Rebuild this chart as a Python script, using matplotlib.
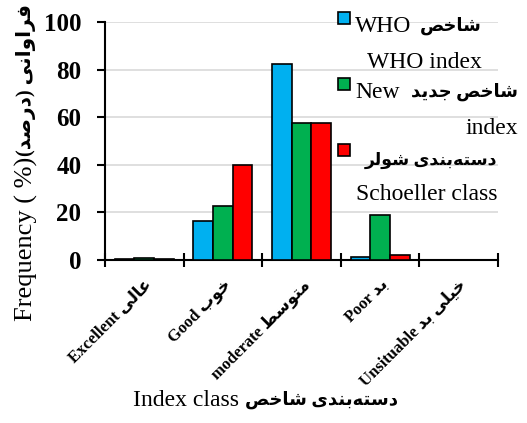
import numpy as np
from matplotlib import pyplot as plt
from matplotlib.patches import Rectangle

plt.rcParams['font.family'] = ['Liberation Serif', 'DejaVu Sans']

# data
classes_en = ['Excellent', 'Good', 'moderate', 'Poor', 'Unsituable']
classes_fa = ['عالی', 'خوب', 'متوسط', 'بد', 'خیلی بد']
who_index = [0.3, 16.3, 82.2, 1.4, 0.0]
new_index = [0.7, 22.8, 57.4, 18.8, 0.0]
schoeller = [0.4, 39.8, 57.7, 2.0, 0.0]
yticks = [0, 20, 40, 60, 80, 100]

colors = ['#00b0f0', '#00b050', '#ff0000']

# --- tiny persian shaper (matplotlib has no shaping / bidi) ---
# isolated, final, initial, medial
FORMS = {
    'ا': ('\uFE8D', '\uFE8E', None, None),
    'ب': ('\uFE8F', '\uFE90', '\uFE91', '\uFE92'),
    'ت': ('\uFE95', '\uFE96', '\uFE97', '\uFE98'),
    'ج': ('\uFE9D', '\uFE9E', '\uFE9F', '\uFEA0'),
    'خ': ('\uFEA5', '\uFEA6', '\uFEA7', '\uFEA8'),
    'د': ('\uFEA9', '\uFEAA', None, None),
    'ر': ('\uFEAD', '\uFEAE', None, None),
    'س': ('\uFEB1', '\uFEB2', '\uFEB3', '\uFEB4'),
    'ش': ('\uFEB5', '\uFEB6', '\uFEB7', '\uFEB8'),
    'ص': ('\uFEB9', '\uFEBA', '\uFEBB', '\uFEBC'),
    'ط': ('\uFEC1', '\uFEC2', '\uFEC3', '\uFEC4'),
    'ع': ('\uFEC9', '\uFECA', '\uFECB', '\uFECC'),
    'ف': ('\uFED1', '\uFED2', '\uFED3', '\uFED4'),
    'ل': ('\uFEDD', '\uFEDE', '\uFEDF', '\uFEE0'),
    'م': ('\uFEE1', '\uFEE2', '\uFEE3', '\uFEE4'),
    'ن': ('\uFEE5', '\uFEE6', '\uFEE7', '\uFEE8'),
    'ه': ('\uFEE9', '\uFEEA', '\uFEEB', '\uFEEC'),
    'و': ('\uFEED', '\uFEEE', None, None),
    'ی': ('\uFBFC', '\uFBFD', '\uFBFE', '\uFBFF'),
}


def fa(s):
    out = []
    for i, c in enumerate(s):
        if c not in FORMS:
            out.append(c)
            continue
        prev = s[i-1] if i > 0 else ''
        nxt = s[i+1] if i + 1 < len(s) else ''
        jp = prev in FORMS and FORMS[prev][2] is not None
        jn = FORMS[c][2] is not None and nxt in FORMS
        if jp and jn:
            out.append(FORMS[c][3])
        elif jp:
            out.append(FORMS[c][1])
        elif jn:
            out.append(FORMS[c][2])
        else:
            out.append(FORMS[c][0])
    s2 = ''.join(out).replace('\u200c', '')[::-1]
    return s2.translate(str.maketrans('()', ')('))


W, H = 527, 423
fig = plt.figure(figsize=(W/100, H/100), dpi=100)
ax = fig.add_axes([105/W, 1-260/H, (498-105)/W, (260-22)/H])


def px(x, y):
    return x/W, 1-y/H


x = np.arange(len(classes_en))
bw = 0.25
for i, vals in enumerate([who_index, new_index, schoeller]):
    ax.bar(x + (i-1)*bw, vals, bw, color=colors[i], edgecolor='black',
           linewidth=1.2, zorder=3)

ax.set_xlim(-0.5, 4.5)
ax.set_ylim(0, 100)
ax.set_yticks(yticks)
ax.set_yticklabels([str(v) for v in yticks], fontsize=18, fontweight='bold')
ax.yaxis.grid(True, color='#d9d9d9', linewidth=1.2, zorder=0)
ax.set_axisbelow(True)
ax.tick_params(axis='y', length=6, width=1.5, pad=11)

ax.set_xticks(x)
ax.set_xticklabels([en + ' ' + fa(f) for en, f in zip(classes_en, classes_fa)],
                   rotation=45, ha='right', rotation_mode='anchor',
                   fontsize=12, fontweight='bold')
ax.tick_params(axis='x', which='major', length=0, pad=12)
ax.set_xticks(np.arange(-0.5, 5.0, 1.0), minor=True)
ax.tick_params(axis='x', which='minor', direction='inout', length=10, width=1.5)

for sp in ['top', 'right']:
    ax.spines[sp].set_visible(False)
ax.spines['left'].set_linewidth(1.5)
ax.spines['bottom'].set_linewidth(1.5)

# y label (two pieces, english regular / persian bold)
fig.text(*px(26, 321), 'Frequency ( %)', rotation=90, ha='center', va='bottom',
         fontsize=19)
fig.text(*px(26, 4), fa('فراوانی (درصد)'), rotation=90, ha='center', va='top',
         fontsize=14.5, fontweight='bold')

# x label
fig.text(*px(239, 400), 'Index class', ha='right', va='center', fontsize=17)
fig.text(*px(245, 400), fa('دسته‌بندی شاخص'), ha='left', va='center',
         fontsize=13, fontweight='bold')

# legend drawn by hand (mixed fonts)
for c, ys in zip(colors, [12, 78, 144]):
    fig.patches.append(Rectangle(px(338, ys + 12), 12/W, 12/H, facecolor=c,
                                 edgecolor='black', linewidth=1.2,
                                 transform=fig.transFigure, figure=fig))
fs = 17
fig.text(*px(355, 26), 'WHO', ha='left', va='center', fontsize=fs)
fig.text(*px(482, 26), fa('شاخص'), ha='right', va='center', fontsize=13,
         fontweight='bold')
fig.text(*px(482, 62), 'WHO index', ha='right', va='center', fontsize=fs)
fig.text(*px(355, 92), 'New', ha='left', va='center', fontsize=fs)
fig.text(*px(518, 92), fa('شاخص جدید'), ha='right', va='center', fontsize=13,
         fontweight='bold')
fig.text(*px(518, 128), 'index', ha='right', va='center', fontsize=fs)
fig.text(*px(497, 160), fa('دسته‌بندی شولر'), ha='right', va='center',
         fontsize=12.5, fontweight='bold')
fig.text(*px(497, 194), 'Schoeller class', ha='right', va='center', fontsize=fs)

fig.savefig('out.png', dpi=100)
